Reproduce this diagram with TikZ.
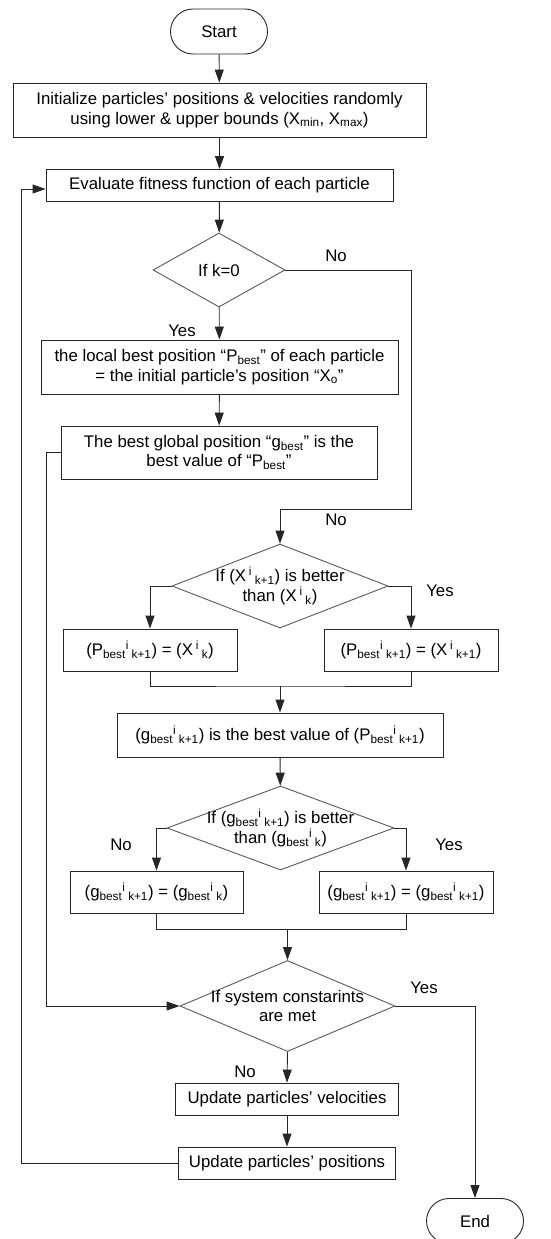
\documentclass[tikz,border=0pt]{standalone}
\usepackage{fontspec}
\setmainfont{Liberation Sans}
\usetikzlibrary{shapes.geometric,shapes.misc,arrows.meta}
\newcommand{\lo}[1]{\textsubscript{#1}}
\newcommand{\hi}[1]{\textsuperscript{#1}}
\begin{document}
\begin{tikzpicture}[x=1pt,y=-1pt,
  font=\fontsize{16.8}{19.5}\selectfont,
  line/.style={draw=black!85,line width=0.9pt},
  arr/.style={line,-{Triangle[length=13pt,width=9pt]}},
  box/.style={line,rectangle,inner sep=0pt,align=center},
  term/.style={line,rounded rectangle,inner sep=0pt,minimum width=97pt,minimum height=45pt},
  dec/.style={draw=black!65,line width=0.9pt,diamond,inner sep=0pt},
  dectext/.style={align=center,inner sep=0pt},
  lbl/.style={inner sep=0pt}]
\useasboundingbox (0,0) rectangle (551,1239);
\clip (0,0) rectangle (551,1239);
% terminals and steps
\node[term] (start) at (219,31.5) {Start};
\node[box,minimum width=413pt,minimum height=54pt] (init) at (219.5,110)
  {Initialize particles' positions \& velocities randomly\\using lower \& upper bounds (X\lo{min}, X\lo{max})};
\node[box,minimum width=347pt,minimum height=32pt] (eval) at (219.5,185.5)
  {Evaluate fitness function of each particle};
\node[dec,minimum width=132pt,minimum height=74pt] (k0) at (219,270) {};
\node[dectext] (k0t) at (k0) {If k=0};
\node[box,minimum width=357pt,minimum height=54pt] (loc) at (219.5,367)
  {the local best position “P\lo{best}” of each particle\\= the initial particle's position “X\lo{o}”};
\node[box,minimum width=316pt,minimum height=53pt] (glob) at (219,452.5)
  {The best global position “g\lo{best}” is the\\best value of “P\lo{best}”};
% particle best
\node[dec,minimum width=216pt,minimum height=84pt] (xcmp) at (280,586) {};
\node[dectext] (xcmpt) at (xcmp) {If (X\,\hi{i}\,\lo{k+1}) is better\\than (X\,\hi{i}\,\lo{k})};
\node[box,minimum width=174pt,minimum height=42pt] (pl) at (150,650)
  {(P\lo{best}\hi{i}\,\lo{k+1}) = (X\,\hi{i}\,\lo{k})};
\node[box,minimum width=174pt,minimum height=42pt] (pr) at (411,650)
  {(P\lo{best}\hi{i}\,\lo{k+1}) = (X\,\hi{i}\,\lo{k+1})};
\node[box,minimum width=326pt,minimum height=44pt] (gval) at (280,735)
  {(g\lo{best}\hi{i}\,\lo{k+1}) is the best value of (P\lo{best}\hi{i}\,\lo{k+1})};
% global best
\node[dec,minimum width=227pt,minimum height=84pt] (gcmp) at (280.5,828) {};
\node[dectext] (gcmpt) at (gcmp) {If (g\lo{best}\hi{i}\,\lo{k+1}) is better\\than (g\lo{best}\hi{i}\,\lo{k})};
\node[box,minimum width=173pt,minimum height=42pt] (gl) at (156.5,892)
  {(g\lo{best}\hi{i}\,\lo{k+1}) = (g\lo{best}\hi{i}\,\lo{k})};
\node[box,minimum width=174pt,minimum height=42pt] (gr) at (406,892)
  {(g\lo{best}\hi{i}\,\lo{k+1}) = (g\lo{best}\hi{i}\,\lo{k+1})};
% stopping test
\node[dec,minimum width=215pt,minimum height=91pt] (cons) at (287.5,1006) {};
\node[dectext] (const) at (cons) {If system constarints\\are met};
\node[box,minimum width=223pt,minimum height=32pt] (vel) at (287,1099) {Update particles' velocities};
\node[box,minimum width=217pt,minimum height=32pt] (pos) at (287,1163) {Update particles' positions};
\node[term] (stop) at (475,1221) {End};
% bends
\coordinate (nob) at (411,509);
\coordinate (bypass) at (46,1006);
\coordinate (join1) at (280,686);
\coordinate (join2) at (287.5,929);
\coordinate (back) at (21,189);
% connectors
\draw[arr] (start) -- (init);
\draw[arr] (init) -- (eval);
\draw[arr] (eval) -- (k0);
\draw[arr] (k0) -- (loc);
\draw[arr] (loc) -- (glob);
\draw[arr] (k0.east) -| (nob) -| (xcmp.north);
\draw[arr] (glob.west) -| (bypass) -- (cons.west);
\draw[arr] (xcmp.west) -| (pl.north);
\draw[arr] (xcmp.east) -| (pr.north);
\draw[line] (pl.south) |- (join1) -| (pr.south);
\draw[arr] (join1) -- (gval.north);
\draw[arr] (gval) -- (gcmp);
\draw[arr] (gcmp.west) -| (gl.north);
\draw[arr] (gcmp.east) -| (gr.north);
\draw[line] (gl.south) |- (join2) -| (gr.south);
\draw[arr] (join2) -- (cons.north);
\draw[arr] (cons.south) -- (vel.north);
\draw[arr] (vel) -- (pos);
\draw[arr] (pos.west) -| (back) -- (back -| eval.west);
\draw[arr] (cons.east) -| (stop.north);
% labels
\node[lbl] (no1) at (336,256) {No};
\node[lbl] (yes1) at (182,331) {Yes};
\node[lbl] (no2) at (336,520) {No};
\node[lbl] (yes2) at (440,591) {Yes};
\node[lbl] (no3) at (121,845) {No};
\node[lbl] (yes3) at (449,845) {Yes};
\node[lbl] (yes4) at (424,988) {Yes};
\node[lbl] (no4) at (245,1072) {No};
\end{tikzpicture}
\end{document}
